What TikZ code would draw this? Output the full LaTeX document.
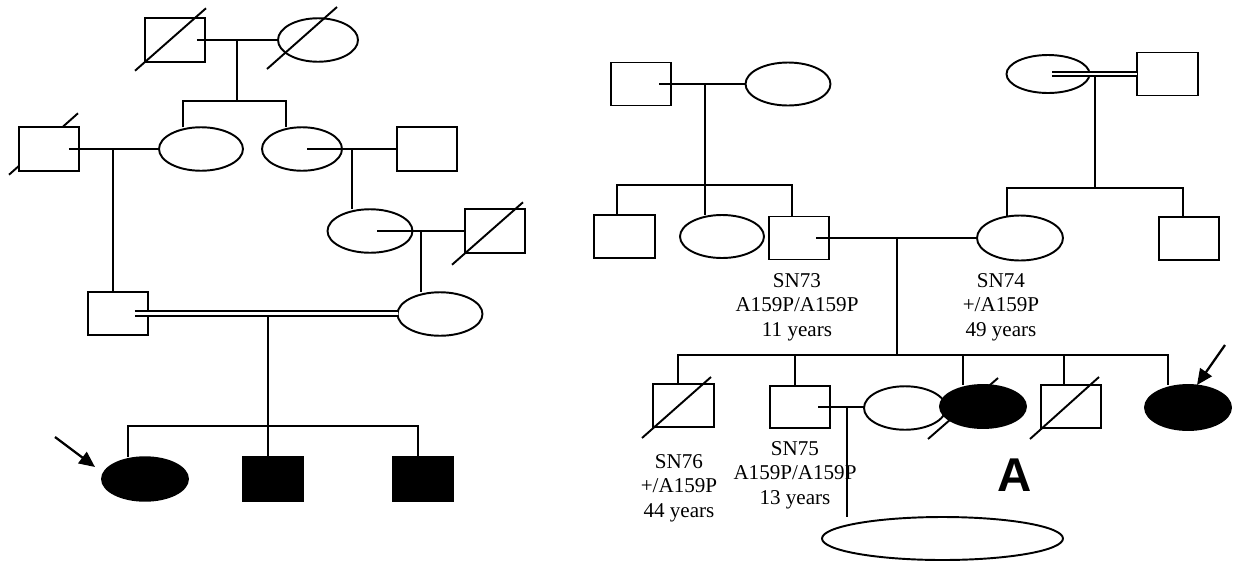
\documentclass[tikz,border=0pt]{standalone}
\usepackage{fontspec}
\setmainfont{Liberation Serif}
\newfontfamily\panelfont{Liberation Sans}
\usetikzlibrary{shapes.geometric,calc,arrows.meta,backgrounds}

\tikzset{
  pline/.style={line width=1.1pt},
  kinline/.style={line width=1.1pt, double, double distance=1.7pt},
  male/.style={draw, line width=1.1pt, fill=white, minimum width=1.2cm, minimum height=0.87cm, inner sep=0pt, outer sep=0pt},
  female/.style={draw, ellipse, line width=1.1pt, fill=white, minimum width=1.7cm, minimum height=0.87cm, inner sep=0pt, outer sep=0pt},
  affected/.style={fill=black},
  idlabel/.style={font=\fontsize{12}{14}\selectfont, align=center, inner sep=0pt, anchor=north},
  proband/.style={line width=1.3pt, -{Triangle[length=9pt,width=8pt]}},
}

\begin{document}
\begin{tikzpicture}[x=0.02cm, y=-0.02cm]
  \useasboundingbox (0,0) rectangle (1234,562);

  % Left family: individuals
  \node[male] (m1) at (175,40) {};
  \node[female, minimum width=1.6cm] (f1) at (318,40) {};
  \node[male] (m2) at (49,149) {};
  \node[female, minimum width=1.68cm] (f2) at (201,149) {};
  \node[female, minimum width=1.6cm] (f3) at (302,149) {};
  \node[male] (m3) at (427,149) {};
  \node[female] (f4) at (370,231) {};
  \node[male] (m4) at (495,231) {};
  \node[male] (m5) at (118,313.5) {};
  \node[female] (f5) at (440,314) {};
  \node[female, affected, minimum width=1.72cm] (c1) at (145,479) {};
  \node[male, affected, minimum height=0.9cm] (c2) at (273,479) {};
  \node[male, affected, minimum height=0.9cm] (c3) at (423,479) {};

  % Left family: lines
  \draw[pline] ($(m1.east)+(-8,0)$) -- (f1.west);
  \coordinate (u1) at (237,40);
  \coordinate (s1a) at (183,101);
  \coordinate (s1b) at (286,101);
  \draw[pline] (u1) -- (u1 |- s1a);
  \draw[pline] (s1a |- f2.north) -- (s1a) -- (s1b) -- (s1b |- f3.north);

  \draw[pline] ($(m2.east)+(-10,0)$) -- (f2.west);
  \coordinate (u2) at (113,149);
  \draw[pline] (u2) -- (u2 |- m5.north);

  \draw[pline] ($(f3.center)+(5,0)$) -- (m3.west);
  \coordinate (u3) at (352,149);
  \draw[pline] (u3) -- (u3 |- f4.north);

  \draw[pline] ($(f4.center)+(7,0)$) -- (f4.center -| m4.west);
  \coordinate (u4) at (421,231);
  \draw[pline] (u4) -- (u4 |- f5.north);

  \draw[kinline] ($(m5.east)+(-13,0)$) -- (m5.east -| f5.west);
  \coordinate (u5) at (268,316.3);
  \coordinate (s5a) at (128,426);
  \coordinate (s5b) at (418,426);
  \draw[pline] (u5) -- (u5 |- s5a);
  \draw[pline] (s5a |- c1.north) -- (s5a) -- (s5b) -- (s5b |- c3.north);
  \draw[pline] (u5 |- s5a) -- (u5 |- c2.north);

  % deceased marks
  \draw[pline] ($(m1.south west)+(-10,9)$) -- ($(m1.north east)+(1,-10)$);
  \draw[pline] ($(f1.center)+(-51,29)$) -- ($(f1.center)+(19,-33)$);
  \draw[pline] ($(m4.south west)+(-13,12)$) -- ($(m4.north east)+(-2,-7)$);
  \begin{pgfonlayer}{background}
    \draw[pline] ($(m2.south west)+(-10,4)$) -- ($(m2.north east)+(-1,-14)$);
  \end{pgfonlayer}

  \coordinate (pl) at (55,437);
  \draw[proband] (pl) -- ($(c1.west)+(-7,-12)$);

  % Right family: individuals
  \node[male, minimum height=0.86cm] (r1) at (641,84) {};
  \node[female, minimum height=0.86cm] (r2) at (788,84) {};
  \node[female, minimum width=1.66cm, minimum height=0.76cm] (r6) at (1048,74) {};
  \node[male, minimum width=1.22cm, minimum height=0.86cm] (r7) at (1167.5,74) {};
  \node[male, minimum width=1.22cm, minimum height=0.86cm] (r3) at (624.5,236.5) {};
  \node[female, minimum width=1.68cm, minimum height=0.86cm] (r4) at (722,236.5) {};
  \node[male, minimum height=0.86cm] (r5) at (799,238) {};
  \node[female, minimum width=1.72cm, minimum height=0.9cm] (r8) at (1020,238) {};
  \node[male, minimum height=0.86cm] (r9) at (1189,238.5) {};

  \node[male, minimum width=1.22cm, minimum height=0.86cm] (s1) at (683.5,405.5) {};
  \node[male, minimum height=0.84cm] (s2) at (800,407) {};
  \node[female, minimum width=1.64cm] (s3) at (905,408) {};
  \node[female, affected, minimum width=1.72cm, minimum height=0.86cm] (s4) at (983,406.5) {};
  \node[male, minimum height=0.86cm] (s5) at (1071,406.5) {};
  \node[female, affected, minimum width=1.72cm, minimum height=0.9cm] (s6) at (1188,407.5) {};
  \node[female, minimum width=4.82cm, minimum height=0.86cm] (s7) at (942.5,538.5) {};

  % Right family: lines
  \draw[pline] ($(r1.east)+(-12,0)$) -- (r2.west);
  \coordinate (v1) at (705,84);
  \coordinate (t1a) at (617,185);
  \coordinate (t1b) at (792,185);
  \draw[pline] (v1) -- (v1 |- r4.north);
  \draw[pline] (t1a |- r3.north) -- (t1a) -- (t1b) -- (t1b |- r5.north);

  \draw[kinline] ($(r6.center)+(4,0)$) -- (r7.west);
  \coordinate (v2) at (1095,76.5);
  \coordinate (t2a) at (1007,188);
  \coordinate (t2b) at (1183,188);
  \draw[pline] (v2) -- (v2 |- t2a);
  \draw[pline] (t2a |- r8.north) -- (t2a) -- (t2b) -- (t2b |- r9.north);

  \draw[pline] ($(r5.east)+(-13,0)$) -- (r8.west);
  \coordinate (v3) at (897,238);
  \coordinate (t3a) at (678,355);
  \coordinate (t3b) at (1168,355);
  \draw[pline] (v3) -- (v3 |- t3a);
  \draw[pline] (t3a |- s1.north) -- (t3a) -- (t3b) -- (t3b |- s6.north);
  \foreach \kid/\xx in {s2/795, s4/963, s5/1064}
    \draw[pline] (\xx,355) -- (\xx,0 |- \kid.north);

  \draw[pline] ($(s2.east)+(-12,0)$) -- (s2.east -| s3.west);
  \coordinate (v4) at (847,407);
  \draw[pline] (v4) -- (v4 |- s7.north);

  % deceased marks
  \draw[pline] ($(s1.south west)+(-11,11)$) -- ($(s1.north east)+(-3,-7)$);
  \draw[pline] ($(s5.south west)+(-11,11)$) -- ($(s5.north east)+(-2,-8)$);
  \begin{pgfonlayer}{background}
    \draw[pline] ($(s4.center)+(-55,32.5)$) -- ($(s4.center)+(15,-28.5)$);
  \end{pgfonlayer}

  \coordinate (pr) at (1225,345);
  \draw[proband] (pr) -- ($(s6.north)+(9,0)$);

  % labels
  \node[idlabel] (lab73) at (797,273) {SN73\\A159P/A159P\\11 years};
  \node[idlabel] (lab74) at (1001,273) {SN74\\+/A159P\\49 years};
  \node[idlabel] (lab75) at (795,441) {SN75\\A159P/A159P\\13 years};
  \node[idlabel] (lab76) at (679,454) {SN76\\+/A159P\\44 years};
  \node[font=\fontsize{27}{30}\selectfont\panelfont\bfseries, inner sep=0pt] (panel) at (1015,475) {A};
\end{tikzpicture}
\end{document}
